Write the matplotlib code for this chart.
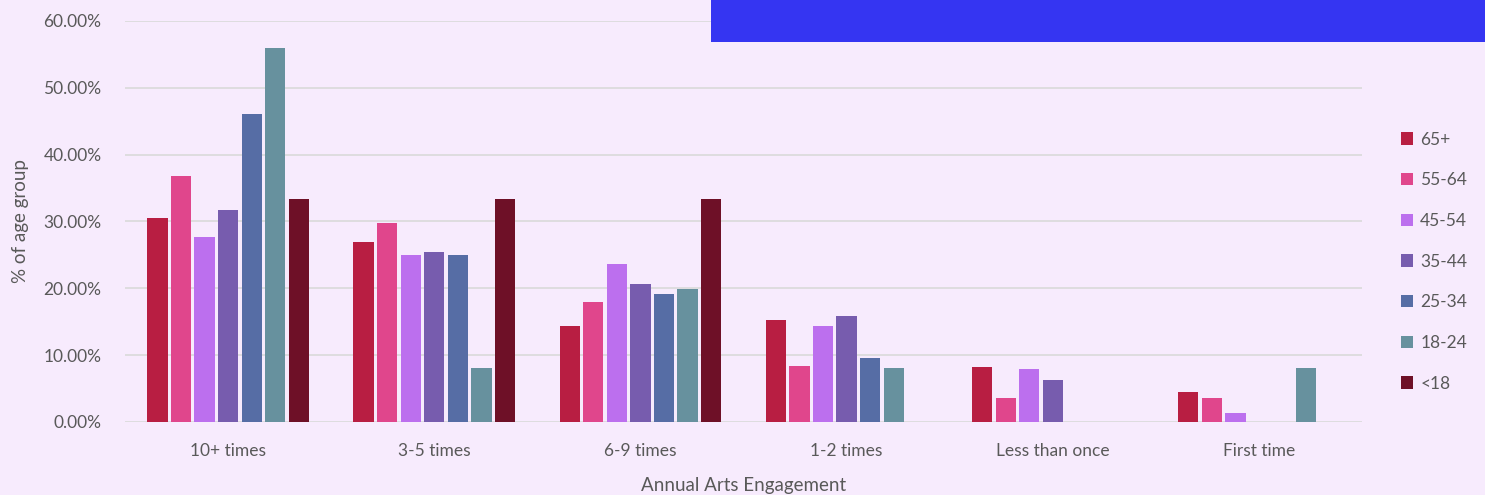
import numpy as np
import matplotlib.pyplot as plt
from matplotlib.patches import Rectangle
from matplotlib.ticker import FuncFormatter

plt.rcParams['font.family'] = ['Lato', 'DejaVu Sans']

categories = ['10+ times', '3-5 times', '6-9 times', '1-2 times', 'Less than once', 'First time']
age_groups = ['65+', '55-64', '45-54', '35-44', '25-34', '18-24', '<18']

# % of each age group per engagement level
pct_65_plus = [30.5, 26.9, 14.4, 15.3, 8.2, 4.5]
pct_55_64 = [36.8, 29.8, 18.0, 8.4, 3.6, 3.6]
pct_45_54 = [27.7, 25.0, 23.7, 14.4, 7.9, 1.4]
pct_35_44 = [31.7, 25.4, 20.7, 15.8, 6.3, 0.0]
pct_25_34 = [46.1, 25.0, 19.2, 9.6, 0.0, 0.0]
pct_18_24 = [56.0, 8.1, 19.9, 8.1, 0.0, 8.1]
pct_under_18 = [33.4, 33.4, 33.4, 0.0, 0.0, 0.0]

series = [pct_65_plus, pct_55_64, pct_45_54, pct_35_44, pct_25_34, pct_18_24, pct_under_18]
colors = ['#B81E42', '#E0468C', '#BC6FEE', '#775CAE', '#566DA5', '#67919E', '#6E1027']

bg = '#F7EBFD'
text_col = '#595959'

fig = plt.figure(figsize=(14.85, 4.95), dpi=100, facecolor=bg)
ax = fig.add_axes([0.0842, 0.1475, 0.833, 0.8101], facecolor=bg)

x = np.arange(len(categories))
n = len(series)
w = 0.8 / n
for i, (vals, c, lab) in enumerate(zip(series, colors, age_groups)):
    ax.bar(x - 0.4 + w * (i + 0.5), vals, width=w * 0.86, color=c, label=lab,
           edgecolor='none', zorder=3)

ax.set_xlim(-0.5, len(categories) - 0.5)
ax.set_ylim(0, 60)
ax.set_yticks(np.arange(0, 61, 10))
ax.yaxis.set_major_formatter(FuncFormatter(lambda v, p: f'{v:.2f}%'))
ax.grid(axis='y', color='#D9D9D9', linewidth=1.2, zorder=0)
for s in ax.spines.values():
    s.set_visible(False)
ax.tick_params(axis='both', length=0, labelsize=12.5, labelcolor=text_col)
ax.tick_params(axis='y', pad=17)
ax.tick_params(axis='x', pad=15)
ax.set_xticks(x)
ax.set_xticklabels(categories)

ax.set_xlabel('Annual Arts Engagement', fontsize=13.5, color=text_col, labelpad=13)
ax.set_ylabel('% of age group', fontsize=13.5, color=text_col, labelpad=10)

ax.legend(loc='center left', bbox_to_anchor=(1.019, 0.40), frameon=False,
          fontsize=12.5, labelcolor=text_col, handlelength=0.7, handleheight=0.7,
          handletextpad=0.4, labelspacing=1.42)

# blue block at top right
fig.add_artist(Rectangle((0.4788, 0.915), 0.53, 0.1, transform=fig.transFigure,
                         facecolor='#3535F2', edgecolor='none', zorder=10))

fig.savefig('out.png', dpi=100, facecolor=bg)
